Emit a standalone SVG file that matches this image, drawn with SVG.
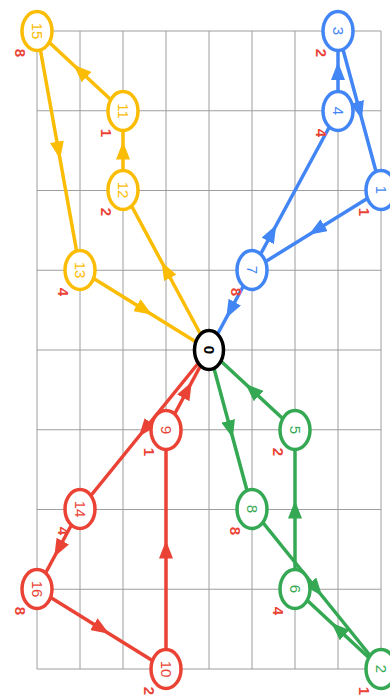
<svg xmlns="http://www.w3.org/2000/svg" width="390" height="698" viewBox="0 0 390 698">
<style>
.grid line{stroke:#9e9e9e;stroke-width:1}
.e{fill:none;stroke-width:3.5;stroke-linejoin:round}
.y{stroke:#fbbc04}.b{stroke:#4285f4}.g{stroke:#34a853}.r{stroke:#ea4335}
.y.e{marker-mid:url(#ay)}.b.e{marker-mid:url(#ab)}.g.e{marker-mid:url(#ag)}.r.e{marker-mid:url(#ar)}
.n ellipse{fill:#fff;stroke-width:3.5}
.n text{font-family:"Liberation Sans",Arial,sans-serif;font-size:15px;text-anchor:middle;dominant-baseline:central}
.w{font-family:"Liberation Sans",Arial,sans-serif;font-size:13px;font-weight:bold;fill:#ea4335;text-anchor:middle;dominant-baseline:central}
</style>
<defs>
<marker id="ay" viewBox="0 0 18 14" refX="9" refY="7" markerWidth="18" markerHeight="14" markerUnits="userSpaceOnUse" orient="auto"><path d="M0,0L18,7L0,14z" fill="#fbbc04"/></marker>
<marker id="ab" viewBox="0 0 18 14" refX="9" refY="7" markerWidth="18" markerHeight="14" markerUnits="userSpaceOnUse" orient="auto"><path d="M0,0L18,7L0,14z" fill="#4285f4"/></marker>
<marker id="ag" viewBox="0 0 18 14" refX="9" refY="7" markerWidth="18" markerHeight="14" markerUnits="userSpaceOnUse" orient="auto"><path d="M0,0L18,7L0,14z" fill="#34a853"/></marker>
<marker id="ar" viewBox="0 0 18 14" refX="9" refY="7" markerWidth="18" markerHeight="14" markerUnits="userSpaceOnUse" orient="auto"><path d="M0,0L18,7L0,14z" fill="#ea4335"/></marker>
</defs>
<rect width="390" height="698" fill="#fff"/>
<g class="grid">
<line x1="37" y1="31" x2="37" y2="669"/><line x1="80" y1="31" x2="80" y2="669"/><line x1="123" y1="31" x2="123" y2="669"/><line x1="166" y1="31" x2="166" y2="669"/><line x1="209" y1="31" x2="209" y2="669"/><line x1="252" y1="31" x2="252" y2="669"/><line x1="295" y1="31" x2="295" y2="669"/><line x1="338" y1="31" x2="338" y2="669"/><line x1="381" y1="31" x2="381" y2="669"/>
<line x1="37" y1="31" x2="381" y2="31"/><line x1="37" y1="110.75" x2="381" y2="110.75"/><line x1="37" y1="190.5" x2="381" y2="190.5"/><line x1="37" y1="270.25" x2="381" y2="270.25"/><line x1="37" y1="350" x2="381" y2="350"/><line x1="37" y1="429.75" x2="381" y2="429.75"/><line x1="37" y1="509.5" x2="381" y2="509.5"/><line x1="37" y1="589.25" x2="381" y2="589.25"/><line x1="37" y1="669" x2="381" y2="669"/>
</g>
<g id="edges">
<polyline class="e y" points="123,111 80,71 37,31"/>
<polyline class="e y" points="37,31 58.5,150.5 80,270"/>
<polyline class="e y" points="123,190 123,150.5 123,111"/>
<polyline class="e y" points="80,270 144.5,310 209,350"/>
<polyline class="e y" points="209,350 166,270 123,190"/>
<polyline class="e b" points="338,111 338,71 338,31"/>
<polyline class="e b" points="338,31 359.5,110.5 381,190"/>
<polyline class="e b" points="381,190 316.5,230 252,270"/>
<polyline class="e b" points="252,270 272,233 338,111"/>
<polyline class="e b" points="252,270 230.5,310 209,350"/>
<polyline class="e g" points="295,430 252,390 209,350"/>
<polyline class="e g" points="209,350 230.5,429.5 252,509"/>
<polyline class="e g" points="295,589 295,509.5 295,430"/>
<polyline class="e g" points="252,509 316.5,589 381,669"/>
<polyline class="e g" points="381,669 338,629 295,589"/>
<polyline class="e r" points="166,430 187.5,390 209,350"/>
<polyline class="e r" points="209,350 144.5,429.5 80,509"/>
<polyline class="e r" points="166,669 166,549.5 166,430"/>
<polyline class="e r" points="80,509 58.5,549 37,589"/>
<polyline class="e r" points="37,589 101.5,629 166,669"/>
</g>
<g id="n0" class="n"><ellipse cx="209" cy="350" rx="14.5" ry="19.5" stroke="#000"/><text transform="translate(209,350) rotate(90)" fill="#000" font-weight="bold">0</text></g>
<g id="n15" class="n"><ellipse cx="37" cy="31" rx="15" ry="19.5" stroke="#fbbc04"/><text transform="translate(37,31) rotate(90)" fill="#fbbc04">15</text><text class="w" transform="translate(20,53) rotate(90)">8</text></g>
<g id="n11" class="n"><ellipse cx="123" cy="111" rx="15" ry="19.5" stroke="#fbbc04"/><text transform="translate(123,111) rotate(90)" fill="#fbbc04">11</text><text class="w" transform="translate(106,133) rotate(90)">1</text></g>
<g id="n12" class="n"><ellipse cx="123" cy="190" rx="15" ry="19.5" stroke="#fbbc04"/><text transform="translate(123,190) rotate(90)" fill="#fbbc04">12</text><text class="w" transform="translate(106,212) rotate(90)">2</text></g>
<g id="n13" class="n"><ellipse cx="80" cy="270" rx="15" ry="19.5" stroke="#fbbc04"/><text transform="translate(80,270) rotate(90)" fill="#fbbc04">13</text><text class="w" transform="translate(63,292) rotate(90)">4</text></g>
<g id="n3" class="n"><ellipse cx="338" cy="31" rx="15" ry="19.5" stroke="#4285f4"/><text transform="translate(338,31) rotate(90)" fill="#4285f4">3</text><text class="w" transform="translate(321,53) rotate(90)">2</text></g>
<g id="n4" class="n"><ellipse cx="338" cy="111" rx="15" ry="19.5" stroke="#4285f4"/><text transform="translate(338,111) rotate(90)" fill="#4285f4">4</text><text class="w" transform="translate(321,133) rotate(90)">4</text></g>
<g id="n1" class="n"><ellipse cx="381" cy="190" rx="15" ry="19.5" stroke="#4285f4"/><text transform="translate(381,190) rotate(90)" fill="#4285f4">1</text><text class="w" transform="translate(364,212) rotate(90)">1</text></g>
<g id="n7" class="n"><ellipse cx="252" cy="270" rx="15" ry="19.5" stroke="#4285f4"/><text transform="translate(252,270) rotate(90)" fill="#4285f4">7</text><text class="w" transform="translate(236,292) rotate(90)">8</text></g>
<g id="n5" class="n"><ellipse cx="295" cy="430" rx="15" ry="19.5" stroke="#34a853"/><text transform="translate(295,430) rotate(90)" fill="#34a853">5</text><text class="w" transform="translate(278,452) rotate(90)">2</text></g>
<g id="n8" class="n"><ellipse cx="252" cy="509" rx="15" ry="19.5" stroke="#34a853"/><text transform="translate(252,509) rotate(90)" fill="#34a853">8</text><text class="w" transform="translate(235,531) rotate(90)">8</text></g>
<g id="n6" class="n"><ellipse cx="295" cy="589" rx="15" ry="19.5" stroke="#34a853"/><text transform="translate(295,589) rotate(90)" fill="#34a853">6</text><text class="w" transform="translate(278,611) rotate(90)">4</text></g>
<g id="n2" class="n"><ellipse cx="381" cy="669" rx="15" ry="19.5" stroke="#34a853"/><text transform="translate(381,669) rotate(90)" fill="#34a853">2</text><text class="w" transform="translate(364,691) rotate(90)">1</text></g>
<g id="n9" class="n"><ellipse cx="166" cy="430" rx="15" ry="19.5" stroke="#ea4335"/><text transform="translate(166,430) rotate(90)" fill="#ea4335">9</text><text class="w" transform="translate(149,452) rotate(90)">1</text></g>
<g id="n14" class="n"><ellipse cx="80" cy="509" rx="15" ry="19.5" stroke="#ea4335"/><text transform="translate(80,509) rotate(90)" fill="#ea4335">14</text><text class="w" transform="translate(63,531) rotate(90)">4</text></g>
<g id="n16" class="n"><ellipse cx="37" cy="589" rx="15" ry="19.5" stroke="#ea4335"/><text transform="translate(37,589) rotate(90)" fill="#ea4335">16</text><text class="w" transform="translate(20,611) rotate(90)">8</text></g>
<g id="n10" class="n"><ellipse cx="166" cy="669" rx="15" ry="19.5" stroke="#ea4335"/><text transform="translate(166,669) rotate(90)" fill="#ea4335">10</text><text class="w" transform="translate(149,691) rotate(90)">2</text></g>
</svg>
